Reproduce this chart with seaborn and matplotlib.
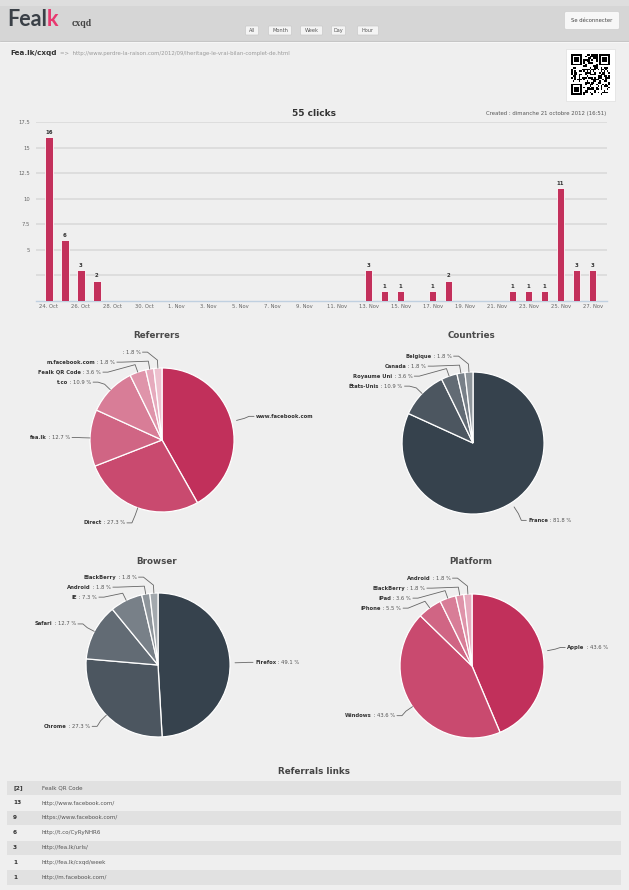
import numpy as np
import pandas as pd
import matplotlib
matplotlib.use("Agg")
import matplotlib.pyplot as plt
from matplotlib.patches import Rectangle, FancyBboxPatch
import seaborn as sns

# ---------------- data ----------------
click_dates = ["2012-10-24", "2012-10-25", "2012-10-26", "2012-10-27",
               "2012-11-13", "2012-11-14", "2012-11-15", "2012-11-17", "2012-11-18",
               "2012-11-22", "2012-11-23", "2012-11-24", "2012-11-25", "2012-11-26",
               "2012-11-27"]
click_counts = [16, 6, 3, 2, 3, 1, 1, 1, 2, 1, 1, 1, 11, 3, 3]
x_tick_labels = ["24. Oct", "26. Oct", "28. Oct", "30. Oct", "1. Nov", "3. Nov", "5. Nov",
                 "7. Nov", "9. Nov", "11. Nov", "13. Nov", "15. Nov", "17. Nov", "19. Nov",
                 "21. Nov", "23. Nov", "25. Nov", "27. Nov"]
y_ticks = [2.5, 5, 7.5, 10, 12.5, 15, 17.5]
y_tick_labels = ["", "5", "7.5", "10", "12.5", "15", "17.5"]

referrer_names = ["www.facebook.com", "Direct", "fea.lk", "t.co", "Fealk QR Code",
                  "m.facebook.com", ""]
referrer_counts = [23, 15, 7, 6, 2, 1, 1]
referrer_show_pct = [False, True, True, True, True, True, True]

country_names = ["France", "États-Unis", "Royaume Uni", "Canada", "Belgique"]
country_counts = [45, 6, 2, 1, 1]

browser_names = ["Firefox", "Chrome", "Safari", "IE", "Android", "BlackBerry"]
browser_counts = [27, 15, 7, 4, 1, 1]

platform_names = ["Apple", "Windows", "iPhone", "iPad", "BlackBerry", "Android"]
platform_counts = [24, 24, 3, 2, 1, 1]

link_counts = ["[2]", "13", "9", "6", "3", "1", "1"]
link_urls = ["Fealk QR Code", "http://www.facebook.com/", "https://www.facebook.com/",
             "http://t.co/CyRyNHR6", "http://fea.lk/urls/", "http://fea.lk/cxqd/week",
             "http://m.facebook.com/"]

# ---------------- style ----------------
PINKS = ["#c1305b", "#c94a6f", "#d06584", "#d87d97", "#df94aa", "#e6aabd", "#edc1cf"]
GREYS = ["#36424d", "#4c5660", "#626b74", "#788088", "#8e959b", "#a3a9ae"]
BAR = "#c3305b"

W, H = 629, 890
sns.set_theme(style="white")
plt.rcParams['font.family'] = ['DejaVu Sans']

fig = plt.figure(figsize=(W / 100, H / 100), dpi=100, facecolor="#efefef")
renderer = fig.canvas.get_renderer()


def box(x0, y0, w, h):
    return [x0 / W, 1 - (y0 + h) / H, w / W, h / H]


bg = fig.add_axes([0, 0, 1, 1])
bg.set_xlim(0, W)
bg.set_ylim(H, 0)
bg.axis("off")
bg.set_zorder(0)

# header
bg.add_patch(Rectangle((0, 0), W, 41, color="#d6d6d6", lw=0))
bg.add_patch(Rectangle((0, 0), W, 6, color="#dedede", lw=0))
bg.plot([0, W], [41, 41], color="#c6c6c6", lw=0.8)
bg.plot([0, W], [42, 42], color="#f8f8f8", lw=0.6)

t1 = bg.text(7, 26.5, "Feal", fontsize=15.5, color="#3a4047", family="Lato",
             fontweight="bold", va="baseline")
w1 = t1.get_window_extent(renderer).width
bg.text(7 + w1, 26.5, "k", fontsize=15.5, color="#e8386f", family="Lato",
        fontweight="bold", va="baseline")
bg.text(72, 26, "cxqd", fontsize=7, color="#444444", family="Liberation Serif",
        va="baseline", fontweight="bold")

for lab, x0, x1 in [("All", 246, 258), ("Month", 269, 291), ("Week", 301, 322),
                    ("Day", 332, 345), ("Hour", 358, 378)]:
    bg.add_patch(FancyBboxPatch((x0, 26.5), x1 - x0, 8, boxstyle="round,pad=0.5,rounding_size=1",
                                fc="#f4f4f4", ec="#c9c9c9", lw=0.5))
    bg.text((x0 + x1) / 2, 30.7, lab, fontsize=3.6, color="#555555", ha="center", va="center")

bg.add_patch(FancyBboxPatch((565, 12), 54, 17, boxstyle="round,pad=0.5,rounding_size=2",
                            fc="#f7f7f7", ec="#cfcfcf", lw=0.5))
bg.text(592, 20.8, "Se déconnecter", fontsize=3.8, color="#444444", ha="center", va="center")

t2 = bg.text(10, 53, "Fea.lk/cxqd", fontsize=5.2, color="#333333", fontweight="bold", va="center")
w2 = t2.get_window_extent(renderer).width
bg.text(10 + w2 + 3, 53, "=>  http://www.perdre-la-raison.com/2012/09/lheritage-le-vrai-bilan-complet-de.html",
        fontsize=3.9, color="#9a9a9a", va="center")

# QR code (decorative, deterministic pattern)
bg.add_patch(Rectangle((566, 49), 49, 52, fc="white", ec="#e0e0e0", lw=0.5))
n = 25
src = np.frombuffer(("http://fea.lk/cxqd" * 40).encode(), dtype=np.uint8).astype(np.int64)
mixed = ((src * 73 + np.arange(src.size) * 151 + 29) % 256).astype(np.uint8)
bits = np.unpackbits(mixed)[: n * n].reshape(n, n)
rr, cc = np.indices((n, n))
qr = (bits ^ ((rr * cc) % 3 == 0)).astype(float)
for (r0, c0) in [(0, 0), (0, n - 7), (n - 7, 0)]:
    qr[max(r0 - 1, 0):r0 + 8, max(c0 - 1, 0):c0 + 8] = 0
    qr[r0:r0 + 7, c0:c0 + 7] = 1
    qr[r0 + 1:r0 + 6, c0 + 1:c0 + 6] = 0
    qr[r0 + 2:r0 + 5, c0 + 2:c0 + 5] = 1
qax = fig.add_axes(box(571, 54, 39, 41))
qax.imshow(qr, cmap="Greys", interpolation="nearest", aspect="auto")
qax.axis("off")

# ---------------- bar chart ----------------
bg.text(314, 113, "55 clicks", fontsize=6.5, fontweight="bold", color="#333333",
        ha="center", va="center")
bg.text(606, 113, "Created : dimanche 21 octobre 2012 (16:51)", fontsize=3.9,
        color="#555555", ha="right", va="center")

df = pd.DataFrame({"day": pd.to_datetime(click_dates), "clicks": click_counts})
full = (df.set_index("day")
          .reindex(pd.date_range(df["day"].min(), df["day"].max(), freq="D"), fill_value=0)
          .rename_axis("day").reset_index())
full["label"] = full["day"].dt.strftime("%Y-%m-%d")

ax = fig.add_axes(box(36, 122, 571, 179))
sns.barplot(data=full, x="label", y="clicks", color=BAR, saturation=1, width=0.47,
            edgecolor="white", linewidth=0.6, ax=ax, zorder=3)
ax.set_xlim(-0.8, 34.9)
ax.set_ylim(0, 17.5)
ax.set_xticks(range(0, len(full), 2))
ax.set_xticklabels(x_tick_labels, fontsize=3.8, color="#666666")
ax.set_yticks(y_ticks)
ax.set_yticklabels(y_tick_labels, fontsize=3.8, color="#666666")
ax.tick_params(axis="x", length=0, pad=2.5)
ax.tick_params(axis="y", length=0, pad=4.5)
ax.grid(axis="y", color="#dadada", lw=1.2, zorder=0)
ax.grid(axis="x", visible=False)
ax.set_axisbelow(True)
for side in ["top", "left", "right"]:
    ax.spines[side].set_visible(False)
ax.spines["bottom"].set_color("#c0d0e0")
ax.spines["bottom"].set_linewidth(1.0)
ax.set_xlabel("")
ax.set_ylabel("")
ax.patch.set_alpha(0)
vals = full["clicks"].tolist()
ax.bar_label(ax.containers[0], labels=[str(v) if v > 0 else "" for v in vals],
             padding=1.5, fontsize=3.9, fontweight="bold", color="#333333")


# ---------------- pies ----------------
def draw_pie(cx, cy, r, tx, ty, title, names, counts, colors, show_pct=None, explode=0.07):
    bg.text(tx, ty, title, fontsize=6.3, fontweight="bold", color="#4a4a4a",
            ha="center", va="center")
    pax = fig.add_axes(box(cx - 150, cy - 105, 300, 210))
    k = len(counts)
    pax.pie(counts, colors=colors[:k], startangle=90, counterclock=False, radius=r,
            explode=[explode] + [0] * (k - 1),
            wedgeprops=dict(edgecolor="white", linewidth=0.9))
    pax.set_aspect("auto")
    pax.set_xlim(-150, 150)
    pax.set_ylim(-105, 105)
    pax.axis("off")
    total = float(sum(counts))
    cum = np.concatenate([[0], np.cumsum(counts)])
    info = []
    for i, c in enumerate(counts):
        mid = (cum[i] + c / 2) / total * 2 * np.pi
        s, co = np.sin(mid), np.cos(mid)
        off = explode * r if i == 0 else 0.0
        info.append(dict(i=i, side=1 if s >= 0 else -1, s=s, co=co,
                         ox=off * s, oy=off * co, y=(r + 16) * co + off * co))
    for side in (1, -1):
        items = sorted([d for d in info if d["side"] == side], key=lambda d: -d["y"])
        prev = None
        for d in items:
            if prev is not None and d["y"] > prev - 10:
                d["y"] = prev - 10
            prev = d["y"]
    R2 = r + 18
    for d in info:
        i, side = d["i"], d["side"]
        dy = d["y"] - d["oy"]
        x = side * np.sqrt(max(R2 ** 2 - dy ** 2, 0.0)) + d["ox"]
        y = d["y"]
        ex, ey = d["ox"] + r * d["s"], d["oy"] + r * d["co"]
        bx, by = d["ox"] + (r + 8) * d["s"], d["oy"] + (r + 8) * d["co"]
        pax.plot([x, x - 5 * side, bx, ex], [y, y, by, ey], color="#666666", lw=0.6,
                 solid_joinstyle="round", clip_on=False)
        name = names[i]
        pct = 100.0 * counts[i] / total
        suffix = " : %.1f %%" % pct if (show_pct is None or show_pct[i]) else ""
        xt = x + 2 * side
        if side < 0:
            ts = pax.text(xt, y, suffix, fontsize=3.8, color="#555555", ha="right",
                          va="center", clip_on=False)
            ws = ts.get_window_extent(renderer).width if suffix else 0
            pax.text(xt - ws, y, name, fontsize=3.8, color="#333333", fontweight="bold",
                     ha="right", va="center", clip_on=False)
        else:
            tn = pax.text(xt, y, name, fontsize=3.8, color="#333333", fontweight="bold",
                          ha="left", va="center", clip_on=False)
            wn = tn.get_window_extent(renderer).width
            pax.text(xt + wn, y, suffix, fontsize=3.8, color="#555555", ha="left",
                     va="center", clip_on=False)


draw_pie(162, 440, 72, 157, 336, "Referrers", referrer_names, referrer_counts, PINKS,
         show_pct=referrer_show_pct)
draw_pie(473, 443, 71, 471, 336, "Countries", country_names, country_counts, GREYS)
draw_pie(158, 665, 72, 157, 561, "Browser", browser_names, browser_counts, GREYS)
draw_pie(472, 666, 72, 471, 561, "Platform", platform_names, platform_counts, PINKS)

# ---------------- referral links table ----------------
bg.text(314, 771, "Referrals links", fontsize=6.3, fontweight="bold", color="#444444",
        ha="center", va="center")
for i, (cnt, url) in enumerate(zip(link_counts, link_urls)):
    top = 781 + 14.9 * i
    if i % 2 == 0:
        bg.add_patch(Rectangle((7, top), 614, 14.2, fc="#e1e1e1", lw=0))
    bg.text(13, top + 7.1, cnt, fontsize=4.2, fontweight="bold", color="#333333", va="center")
    bg.text(42, top + 7.1, url, fontsize=4.1, color="#555555", va="center")

fig.savefig("out.png", dpi=100, facecolor=fig.get_facecolor())
